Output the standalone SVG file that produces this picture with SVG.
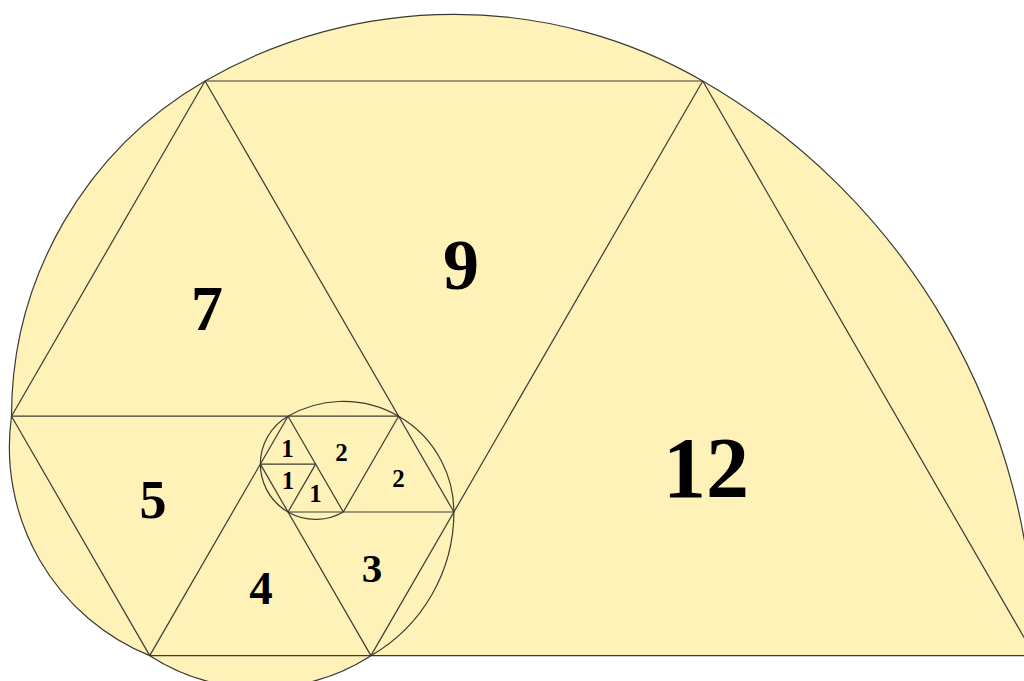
<svg xmlns="http://www.w3.org/2000/svg" width="1024" height="681" viewBox="0 0 1024 681">
  <style>
    .edge { fill: none; stroke: #3a3a30; stroke-width: 1.2; stroke-linejoin: round; }
    .shape { fill: #FFF2B8; stroke: #3a3a30; stroke-width: 1.2; }
    .lbl { font-family: "Liberation Serif", "Times New Roman", serif; font-weight: bold; fill: #000; text-anchor: middle; }
  </style>
  <rect x="0" y="0" width="1024" height="681" fill="#FFFFFF"/>
  <g id="spiral-body">
    <path class="shape" d="M 11.5 416.22 A 387.1 387.1 0 0 1 205.05 80.98 A 497.7 497.7 0 0 1 702.75 80.98 A 663.6 663.6 0 0 1 1034.55 655.67 L 370.95 655.67 A 205 205 0 0 1 149.75 655.67 A 225 225 0 0 1 11.5 416.22 Z"/>
  </g>
  <g id="connectors">
    <line class="edge" x1="11.5" y1="416.22" x2="398.6" y2="416.22"/>
    <line class="edge" x1="11.5" y1="416.22" x2="205.05" y2="80.98"/>
    <line class="edge" x1="205.05" y1="80.98" x2="702.75" y2="80.98"/>
    <line class="edge" x1="205.05" y1="80.98" x2="453.9" y2="512"/>
    <line class="edge" x1="702.75" y1="80.98" x2="370.95" y2="655.67"/>
    <line class="edge" x1="702.75" y1="80.98" x2="1034.55" y2="655.67"/>
    <line class="edge" x1="149.75" y1="655.67" x2="370.95" y2="655.67"/>
    <line class="edge" x1="11.5" y1="416.22" x2="149.75" y2="655.67"/>
    <line class="edge" x1="288" y1="416.22" x2="149.75" y2="655.67"/>
    <line class="edge" x1="260.35" y1="464.11" x2="370.95" y2="655.67"/>
    <line class="edge" x1="288" y1="512" x2="453.9" y2="512"/>
    <line class="edge" x1="288" y1="416.22" x2="343.3" y2="512"/>
    <line class="edge" x1="398.6" y1="416.22" x2="343.3" y2="512"/>
    <line class="edge" x1="260.35" y1="464.11" x2="315.65" y2="464.11"/>
    <line class="edge" x1="315.65" y1="464.11" x2="288" y2="512"/>
    <path class="edge" d="M 343.3 512 A 55.3 55.3 0 0 1 260.35 464.11 A 55.3 55.3 0 0 1 288 416.22 A 110.6 110.6 0 0 1 453.9 512 A 165.9 165.9 0 0 1 370.95 655.67"/>
  </g>
  <g id="t12"><text class="lbl" x="706" y="497" font-size="86">12</text></g>
  <g id="t9"><text class="lbl" x="461" y="289" font-size="72">9</text></g>
  <g id="t7"><text class="lbl" x="207" y="330" font-size="64">7</text></g>
  <g id="t5"><text class="lbl" x="153" y="518" font-size="54">5</text></g>
  <g id="t4"><text class="lbl" x="261" y="604" font-size="47">4</text></g>
  <g id="t3"><text class="lbl" x="372" y="582" font-size="41">3</text></g>
  <g id="t2a"><text class="lbl" x="341.5" y="461" font-size="25">2</text></g>
  <g id="t2b"><text class="lbl" x="398.5" y="487" font-size="25">2</text></g>
  <g id="t1a"><text class="lbl" x="287.5" y="457" font-size="25">1</text></g>
  <g id="t1b"><text class="lbl" x="288" y="489" font-size="25">1</text></g>
  <g id="t1c"><text class="lbl" x="315.5" y="502" font-size="25">1</text></g>
</svg>
